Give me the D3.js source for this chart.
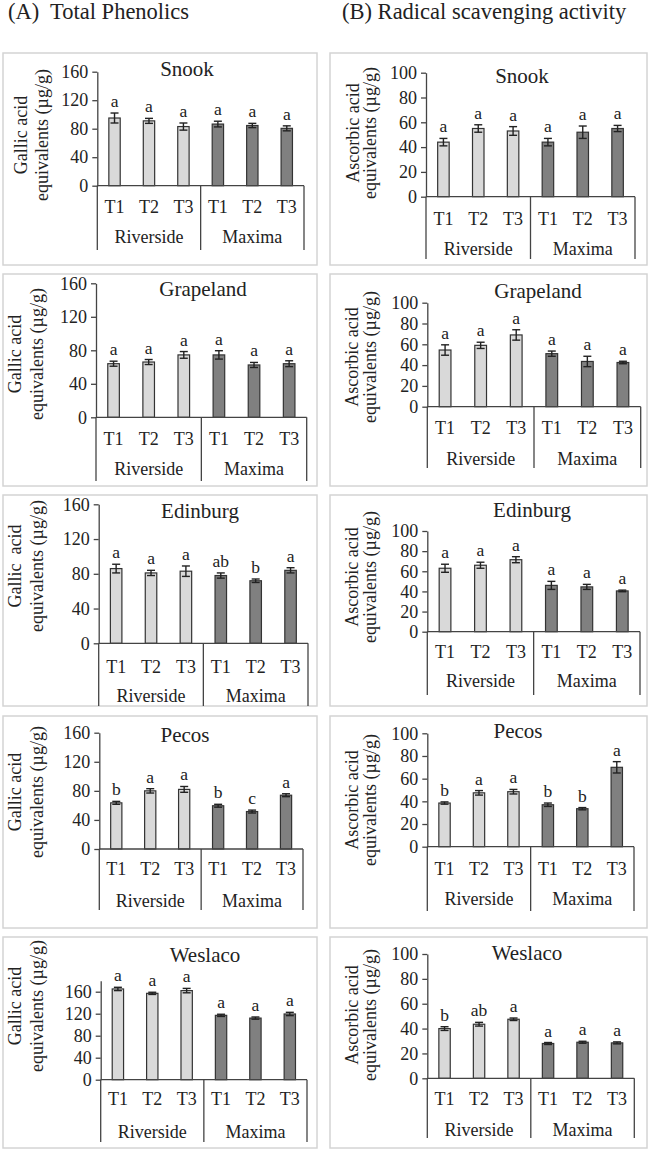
<!DOCTYPE html>
<html>
<head>
<meta charset="utf-8">
<script src="https://cdn.jsdelivr.net/npm/d3@7"></script>
<style>
  html, body { margin: 0; padding: 0; background: #fff; }
  svg { display: block; }
  text { font-family: "Liberation Serif", "Times New Roman", serif; fill: #222; }
</style>
</head>
<body>
<svg id="chart" width="649" height="1150"></svg>
<script>
// ---------------- data ----------------
const locations  = ["Snook", "Grapeland", "Edinburg", "Pecos", "Weslaco"];
const cultivars  = ["Riverside", "Maxima"];
const treatments = ["T1", "T2", "T3"];
const columnTitles = ["(A)  Total Phenolics", "(B) Radical scavenging activity"];

// (A) Total phenolics, gallic acid equivalents (µg/g); order: Riverside T1-T3, Maxima T1-T3
const phenolicsMean = [
  [95, 91, 83, 86.5, 84.5, 80.5],
  [64, 66, 74.5, 74.5, 62.5, 64],
  [86, 81, 83, 78, 72, 84],
  [63.5, 80, 82, 59.5, 51.5, 74],
  [165, 157, 162, 117, 112, 119.5]
];
const phenolicsErr = [
  [7, 3.5, 5, 4, 3, 3.5],
  [3, 3, 4, 5, 3, 3.5],
  [5, 3, 6, 3, 2, 3],
  [2, 3, 4, 2, 2, 2],
  [3, 2, 4, 2, 2, 3]
];
const phenolicsLetters = [
  ["a", "a", "a", "a", "a", "a"],
  ["a", "a", "a", "a", "a", "a"],
  ["a", "a", "a", "ab", "b", "a"],
  ["b", "a", "a", "b", "c", "a"],
  ["a", "a", "a", "a", "a", "a"]
];
const phenolicsTicks = [0, 40, 80, 120, 160];
const phenolicsMax   = [160, 160, 160, 160, 180];

// (B) Radical scavenging activity, ascorbic acid equivalents (µg/g)
const scavMean = [
  [44, 55, 53, 44, 52, 55],
  [54.5, 59, 69, 51, 43.5, 42.5],
  [63, 66, 71.5, 46, 44.5, 40.5],
  [38.5, 47.5, 48.5, 37, 33.5, 70],
  [40, 43.5, 47.5, 28, 29, 28.5]
];
const scavErr = [
  [3, 3, 3.5, 3, 5, 2.5],
  [5, 3, 5, 2.5, 5, 1.2],
  [4, 3, 3, 4, 2.5, 0.8],
  [1, 2, 2, 1.5, 1, 5],
  [1.5, 1.5, 1, 0.8, 0.8, 0.8]
];
const scavLetters = [
  ["a", "a", "a", "a", "a", "a"],
  ["a", "a", "a", "a", "a", "a"],
  ["a", "a", "a", "a", "a", "a"],
  ["b", "a", "a", "b", "b", "a"],
  ["b", "ab", "a", "a", "a", "a"]
];
const scavTicks = [0, 20, 40, 60, 80, 100];
const scavMax   = [100, 100, 100, 100, 100];

const yLabelA = ["Gallic acid", "equivalents (µg/g)"];
const yLabelA3 = ["Gallic  acid", "equivalents (µg/g)"];
const yLabelB = ["Ascorbic acid", "equivalents (µg/g)"];

// ---------------- layout (positions only) ----------------
const leftBox  = { x: 3,   w: 314 };
const rightBox = { x: 330, w: 317 };
const rowBoxes = [[53, 265], [274, 486], [495, 706], [716, 928], [937, 1148]];

const leftLayout = [
  { ax: 97.3, top: 71.7,  base: 185.7, right: 304,   tY: 213,  gY: 243,  lb: 250,  tx: 187, ty: 76,  ly: 135, l1: 21, l2: 42 },
  { ax: 96,   top: 283.3, base: 417.3, right: 306.7, tY: 445,  gY: 475,  lb: 481,  tx: 203, ty: 296, ly: 354, l1: 15, l2: 37 },
  { ax: 98.7, top: 504.3, base: 643.3, right: 308,   tY: 673,  gY: 702,  lb: 706,  tx: 200, ty: 518, ly: 566, l1: 15, l2: 37 },
  { ax: 99.3, top: 732.7, base: 849,   right: 303,   tY: 875,  gY: 907,  lb: 910,  tx: 185, ty: 742, ly: 792, l1: 15, l2: 37 },
  { ax: 100.7,top: 980.7, base: 1079.7,right: 307,   tY: 1105, gY: 1138, lb: 1142, tx: 205, ty: 962, ly: 1006, l1: 15, l2: 37 }
];
const rightLayout = [
  { ax: 426,   top: 72.7,  base: 196.7,  right: 635,   tY: 225,  gY: 255,  lb: 259,  tx: 522, ty: 83,  ly: 133,  l1: 353, l2: 370 },
  { ax: 427.3, top: 302.7, base: 406.7,  right: 640.7, tY: 434,  gY: 465,  lb: 468,  tx: 538, ty: 298, ly: 357,  l1: 352, l2: 370 },
  { ax: 427.3, top: 531,   base: 631.7,  right: 640,   tY: 658,  gY: 687,  lb: 695,  tx: 532, ty: 517, ly: 577,  l1: 352, l2: 370 },
  { ax: 427.3, top: 733.3, base: 846.7,  right: 634,   tY: 875,  gY: 905,  lb: 911,  tx: 518, ty: 738, ly: 800,  l1: 352, l2: 370 },
  { ax: 427.3, top: 954,   base: 1078.3, right: 634.3, tY: 1105, gY: 1136, lb: 1138, tx: 527, ty: 960, ly: 1015, l1: 352, l2: 370 }
];

const colors = { Riverside: "#d9d9d9", Maxima: "#808080" };
const ink = "#333";
const axisInk = "#444";
const boxInk = "#d4d4d4";

const svg = d3.select("#chart");

// column headers
svg.append("text").attr("x", 8).attr("y", 19).attr("font-size", 22.5)
  .attr("xml:space", "preserve").style("white-space", "pre").text(columnTitles[0]);
svg.append("text").attr("x", 342).attr("y", 19).attr("font-size", 22.5).text(columnTitles[1]);

const keys = [];
cultivars.forEach(c => treatments.forEach(t => keys.push({ c, t, k: c + "-" + t })));

function drawPanel(box, row, L, means, errs, letters, ticks, ymax, title, ylab) {
  const g = svg.append("g");
  const [y0, y1] = rowBoxes[row];
  g.append("rect").attr("x", box.x).attr("y", y0).attr("width", box.w).attr("height", y1 - y0)
    .attr("fill", "none").attr("stroke", boxInk).attr("stroke-width", 1.5);

  const x = d3.scaleBand().domain(keys.map(d => d.k)).range([L.ax, L.right])
    .paddingInner(0.67).paddingOuter(0.335);
  const xg = d3.scaleBand().domain(cultivars).range([L.ax, L.right]).padding(0);
  const y = d3.scaleLinear().domain([0, ymax]).range([L.base, L.top]);

  // y axis
  const ya = g.append("g").attr("transform", `translate(${L.ax},0)`)
    .call(d3.axisLeft(y).tickValues(ticks).tickSize(5).tickSizeOuter(0).tickPadding(4).tickFormat(d3.format("d")));
  ya.select(".domain").attr("stroke", axisInk).attr("stroke-width", 1.3);
  ya.selectAll(".tick line").attr("stroke", axisInk).attr("stroke-width", 1.3);
  ya.selectAll(".tick text").attr("font-size", 18).attr("font-family", "Liberation Serif").attr("fill", "#222");

  const data = keys.map((d, i) => ({ ...d, v: means[i], e: errs[i], l: letters[i] }));

  // bars
  g.selectAll("rect.bar").data(data).join("rect").attr("class", "bar")
    .attr("x", d => x(d.k)).attr("width", x.bandwidth())
    .attr("y", d => y(d.v)).attr("height", d => y(0) - y(d.v))
    .attr("fill", d => colors[d.c]).attr("stroke", ink).attr("stroke-width", 1.2);

  // error bars
  const cap = 4;
  const eb = g.selectAll("g.err").data(data).join("g").attr("class", "err")
    .attr("stroke", "#222").attr("stroke-width", 1.4);
  eb.append("line").attr("x1", d => x(d.k) + x.bandwidth() / 2).attr("x2", d => x(d.k) + x.bandwidth() / 2)
    .attr("y1", d => y(d.v - d.e)).attr("y2", d => y(d.v + d.e));
  eb.append("line").attr("x1", d => x(d.k) + x.bandwidth() / 2 - cap).attr("x2", d => x(d.k) + x.bandwidth() / 2 + cap)
    .attr("y1", d => y(d.v + d.e)).attr("y2", d => y(d.v + d.e));
  eb.append("line").attr("x1", d => x(d.k) + x.bandwidth() / 2 - cap).attr("x2", d => x(d.k) + x.bandwidth() / 2 + cap)
    .attr("y1", d => y(d.v - d.e)).attr("y2", d => y(d.v - d.e));

  // letters
  g.selectAll("text.lt").data(data).join("text").attr("class", "lt")
    .attr("x", d => x(d.k) + x.bandwidth() / 2).attr("y", d => y(d.v + d.e) - 6)
    .attr("text-anchor", "middle").attr("font-size", 17.5).text(d => d.l);

  // x axis line
  g.append("line").attr("x1", L.ax).attr("x2", L.right).attr("y1", L.base).attr("y2", L.base)
    .attr("stroke", axisInk).attr("stroke-width", 1.3);
  // group separators
  const bounds = [xg.range()[0]].concat(cultivars.map(c => xg(c) + xg.bandwidth()));
  g.selectAll("line.sep").data(bounds).join("line").attr("class", "sep")
    .attr("x1", d => d).attr("x2", d => d).attr("y1", L.base).attr("y2", L.lb)
    .attr("stroke", axisInk).attr("stroke-width", 1.3);

  // treatment labels
  g.selectAll("text.tr").data(data).join("text").attr("class", "tr")
    .attr("x", d => x(d.k) + x.bandwidth() / 2).attr("y", L.tY)
    .attr("text-anchor", "middle").attr("font-size", 18).text(d => d.t);
  // cultivar labels
  g.selectAll("text.cv").data(cultivars).join("text").attr("class", "cv")
    .attr("x", d => xg(d) + xg.bandwidth() / 2).attr("y", L.gY)
    .attr("text-anchor", "middle").attr("font-size", 18).text(d => d);

  // title
  g.append("text").attr("x", L.tx).attr("y", L.ty).attr("text-anchor", "middle")
    .attr("font-size", 21).text(title);

  // y label (two lines)
  [L.l1, L.l2].forEach((lx, i) => {
    g.append("text").attr("transform", `translate(${lx},${L.ly}) rotate(-90)`)
      .attr("text-anchor", "middle").attr("dy", "0.35em").attr("font-size", 18)
      .attr("xml:space", "preserve").style("white-space", "pre").text(ylab[i]);
  });
}

locations.forEach((loc, i) => {
  drawPanel(leftBox, i, leftLayout[i], phenolicsMean[i], phenolicsErr[i], phenolicsLetters[i],
    phenolicsTicks, phenolicsMax[i], loc, i === 2 ? yLabelA3 : yLabelA);
  drawPanel(rightBox, i, rightLayout[i], scavMean[i], scavErr[i], scavLetters[i],
    scavTicks, scavMax[i], loc, yLabelB);
});
</script>
</body>
</html>
